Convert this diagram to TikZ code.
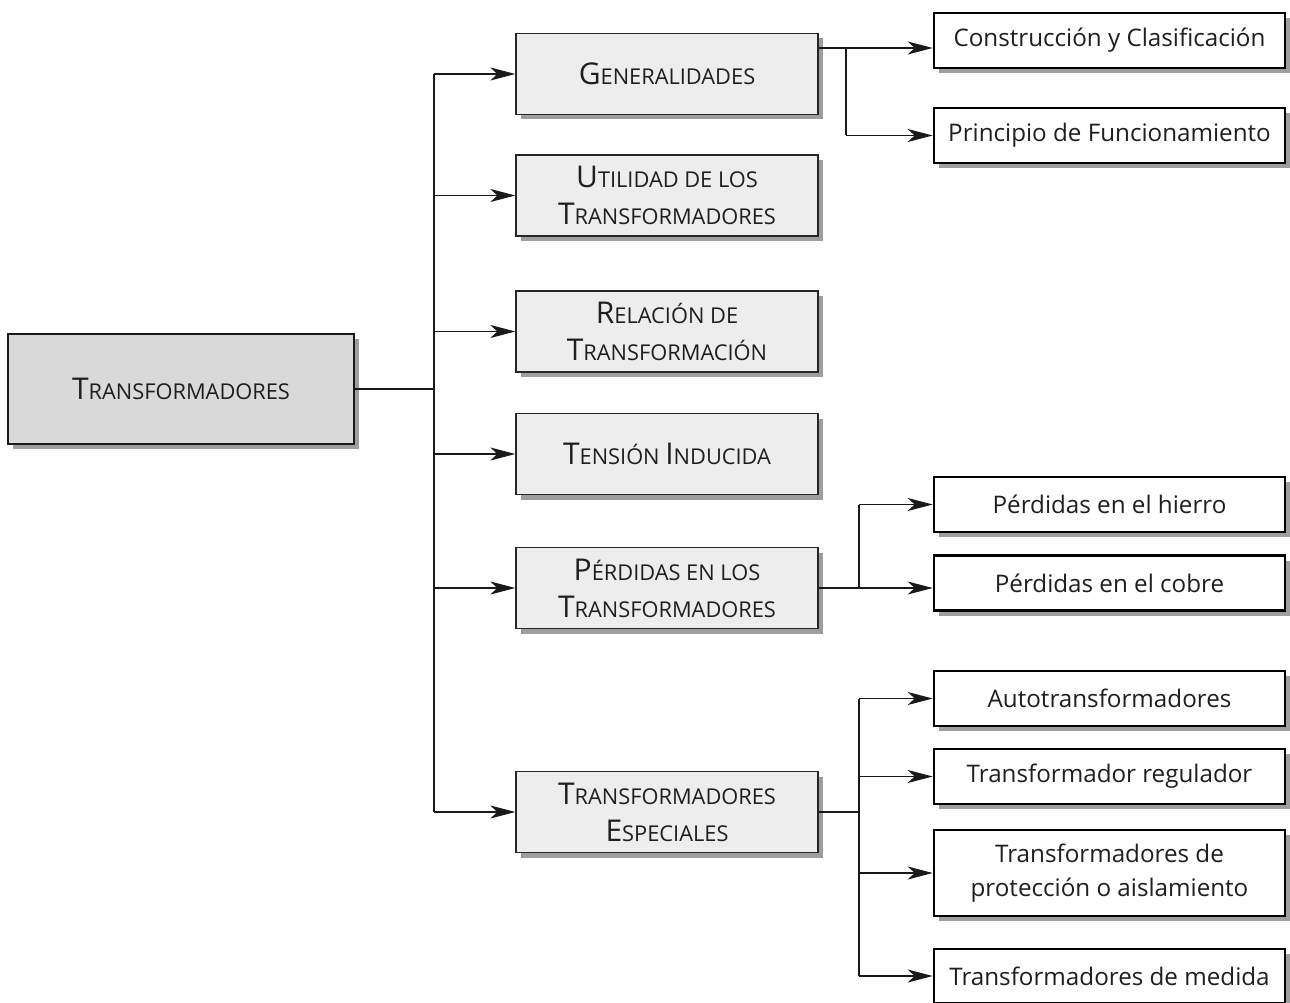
\documentclass[tikz,border=0pt]{standalone}
\usepackage{fontspec}
\setmainfont{Open Sans}
\usetikzlibrary{arrows.meta,shadows}
\newcommand{\bigL}[1]{{\fontsize{30}{37}\selectfont #1}}
\newcommand{\smL}[1]{{\fontsize{21.8}{37}\selectfont #1}}
\newcommand{\scw}[2]{\bigL{#1}\smL{#2}}
\begin{document}
\begin{tikzpicture}[x=1pt,y=-1pt,
  shadowed/.style={drop shadow={shadow xshift=5pt,shadow yshift=-5pt,fill=black!38,opacity=1}},
  rootbox/.style={shadowed,draw=black!90,line width=1.4pt,fill=black!15,text=black!88,
    minimum width=346pt,minimum height=110pt,inner sep=0pt,align=center,
    font=\fontsize{21.8}{37}\selectfont},
  midbox/.style={shadowed,draw=black!85,line width=1.3pt,fill=black!7,text=black!88,
    minimum width=302pt,minimum height=81pt,inner sep=0pt,align=center,
    font=\fontsize{21.8}{37}\selectfont},
  leafbox/.style={shadowed,draw=black,line width=2.6pt,fill=white,text=black!88,
    minimum width=351pt,minimum height=55pt,inner sep=0pt,align=center,
    font=\fontsize{24.2}{34}\selectfont},
  conn/.style={line width=1.3pt,draw=black!90},
  arr/.style={conn,-{Stealth[length=25pt,width=13pt,inset=7pt]}}
]
\useasboundingbox (0,0) rectangle (1290,1003);

% root
\node[rootbox] (root) at (181,389) {\scw{T}{RANSFORMADORES}};

% middle column
\node[midbox] (g) at (667,74) {\scw{G}{ENERALIDADES}};
\node[midbox] (u) at (667,195.5) {\scw{U}{TILIDAD DE LOS}\\\scw{T}{RANSFORMADORES}};
\node[midbox] (r) at (667,331.5) {\scw{R}{ELACIÓN DE}\\\scw{T}{RANSFORMACIÓN}};
\node[midbox] (t) at (667,454) {\scw{T}{ENSIÓN }\scw{I}{NDUCIDA}};
\node[midbox] (p) at (667,588) {\scw{P}{ÉRDIDAS EN LOS}\\\scw{T}{RANSFORMADORES}};
\node[midbox] (e) at (667,812) {\scw{T}{RANSFORMADORES}\\\scw{E}{SPECIALES}};

% right column
\node[leafbox] (c1) at (1109.5,40.5) {Construcción y Clasificación};
\node[leafbox] (c2) at (1109.5,135.5) {Principio de Funcionamiento};
\node[leafbox] (ph) at (1109.5,504.5) {Pérdidas en el hierro};
\node[leafbox] (pc) at (1109.5,583) {Pérdidas en el cobre};
\node[leafbox] (au) at (1109.5,698.5) {Autotransformadores};
\node[leafbox] (rg) at (1109.5,776.5) {Transformador regulador};
\node[leafbox,minimum height=86pt] (pr) at (1109.5,873) {Transformadores de\\protección o aislamiento};
\node[leafbox,minimum height=54pt] (md) at (1109.5,976) {Transformadores de medida};

% trunk
\coordinate (tr) at (434,389);
\draw[conn] (root.east) -- (tr);
\draw[conn] (tr |- g.west) -- (tr |- e.west);
\foreach \n in {g,u,r,t,p,e}{
  \draw[arr] (tr |- \n.west) -- (\n.west);
}

% Generalidades branch
\coordinate (gb) at (846,48);
\draw[conn] (g.east |- gb) -- (gb);
\draw[arr] (gb) -- (c1.west |- gb);
\draw[conn] (gb) -- (gb |- c2.west);
\draw[arr] (gb |- c2.west) -- (c2.west);

% Perdidas branch
\coordinate (pb) at (859,588);
\draw[conn] (p.east) -- (pb);
\draw[arr] (pb) -- (pc.west |- pb);
\draw[conn] (pb) -- (pb |- ph.west);
\draw[arr] (pb |- ph.west) -- (ph.west);

% Especiales branch
\coordinate (eb) at (859,812);
\draw[conn] (e.east) -- (eb);
\draw[conn] (eb |- au.west) -- (eb |- md.west);
\foreach \n in {au,rg,pr,md}{
  \draw[arr] (eb |- \n.west) -- (\n.west);
}
\end{tikzpicture}
\end{document}
